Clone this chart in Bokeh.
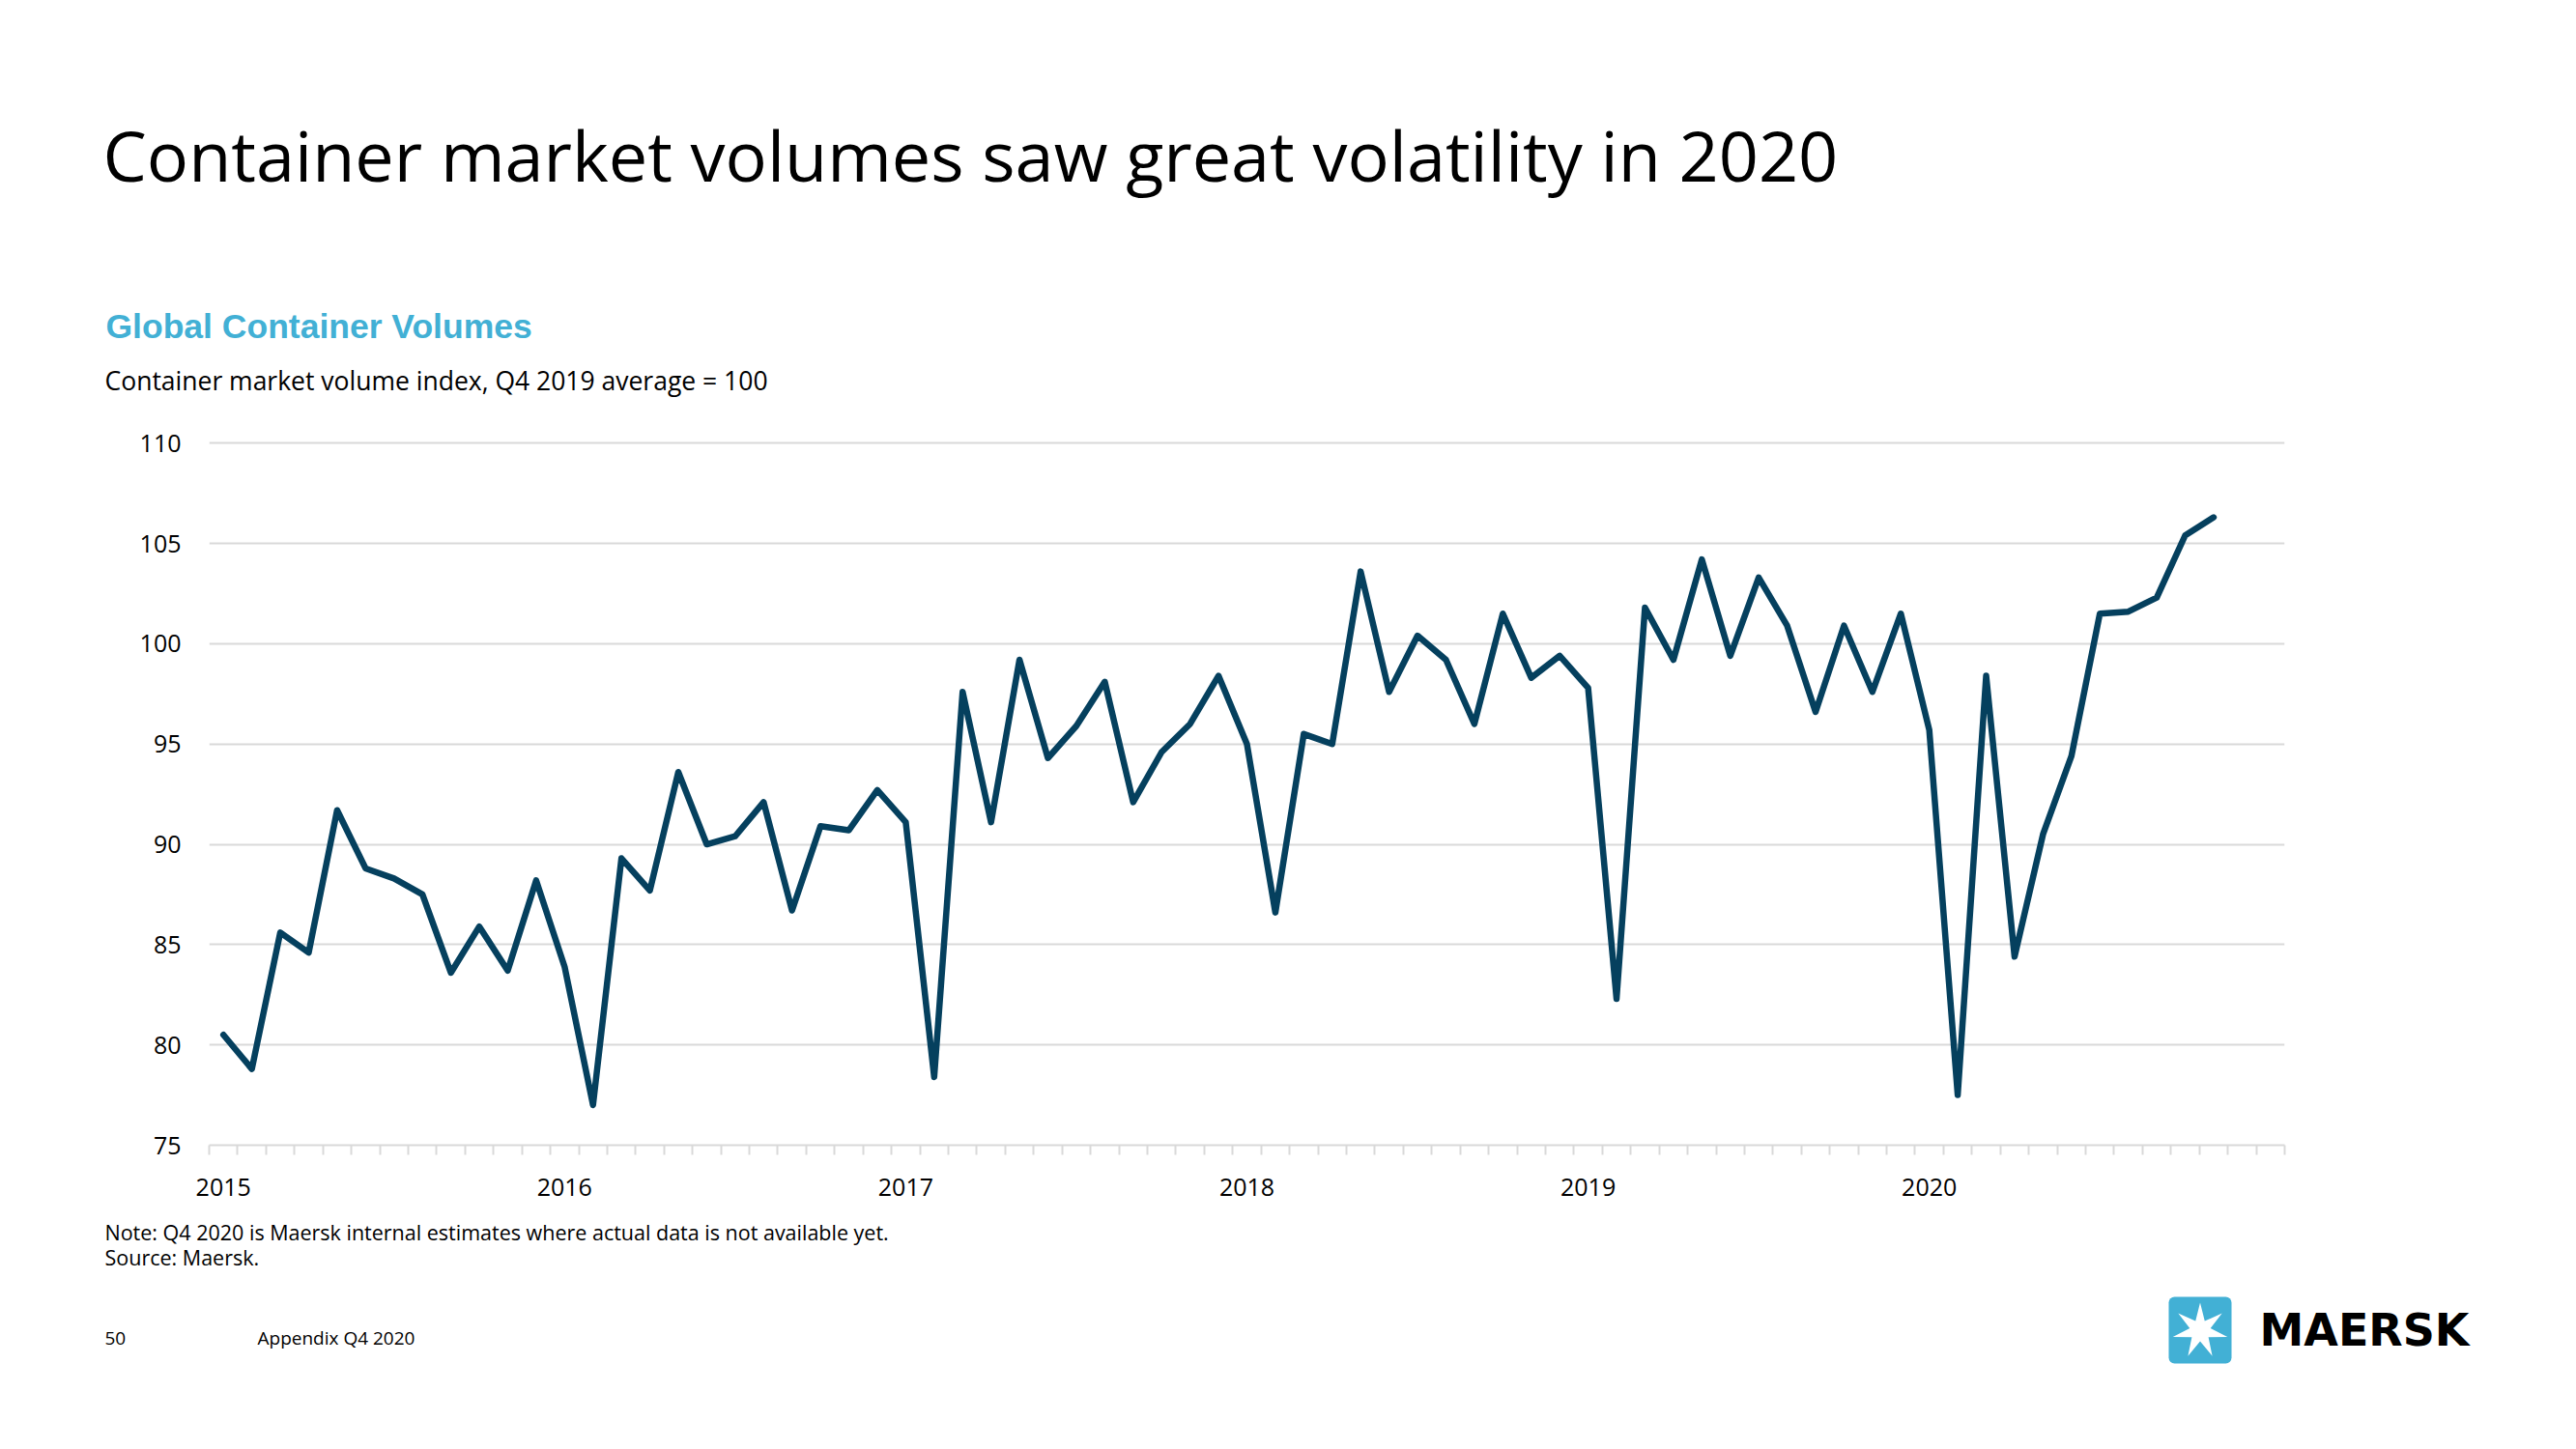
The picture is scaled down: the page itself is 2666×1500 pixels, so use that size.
import math
from bokeh.plotting import figure
from bokeh.layouts import column, row
from bokeh.models import (Range1d, FixedTicker, Label, BoxAnnotation, PolyAnnotation,
                          ColumnDataSource)
from bokeh.embed import file_html
from bokeh.resources import INLINE

# ---------------- data ----------------
year_labels = ["2015", "2016", "2017", "2018", "2019", "2020"]
vol_2015 = [80.5, 78.8, 85.6, 84.6, 91.7, 88.8, 88.3, 87.5, 83.6, 85.9, 83.7, 88.2]
vol_2016 = [83.9, 77.0, 89.3, 87.7, 93.6, 90.0, 90.4, 92.1, 86.7, 90.9, 90.7, 92.7]
vol_2017 = [91.1, 78.4, 97.6, 91.1, 99.2, 94.3, 95.9, 98.1, 92.1, 94.6, 96.0, 98.4]
vol_2018 = [95.0, 86.6, 95.5, 95.0, 103.6, 97.6, 100.4, 99.2, 96.0, 101.5, 98.3, 99.4]
vol_2019 = [97.8, 82.3, 101.8, 99.2, 104.2, 99.4, 103.3, 100.9, 96.6, 100.9, 97.6, 101.5]
vol_2020 = [95.7, 77.5, 98.4, 84.4, 90.5, 94.4, 101.5, 101.6, 102.3, 105.4, 106.3]
y_ticks = [75, 80, 85, 90, 95, 100, 105, 110]

values = vol_2015 + vol_2016 + vol_2017 + vol_2018 + vol_2019 + vol_2020
months_per_year = 12
n_slots = len(year_labels) * months_per_year + 1   # axis runs to Jan 2021

TITLE = "Container market volumes saw great volatility in 2020"
SUBTITLE = "Global Container Volumes"
DESC = "Container market volume index, Q4 2019 average = 100"
NOTE = "Note: Q4 2020 is Maersk internal estimates where actual data is not available yet."
SOURCE = "Source: Maersk."
PAGE = "50"
FOOTER = "Appendix Q4 2020"
BRAND = "MAERSK"

LINE_COLOR = "#05405E"
GRID_COLOR = "#D9D9D9"
BLUE = "#42B0D5"
TXT = "#000000"

W = 2660
HEAD_H, CHART_H, FOOT_H = 430, 820, 240


def blank(height, y_top):
    """A figure whose frame is the whole canvas; data units = page pixels."""
    f = figure(width=W, height=height, output_backend="svg", toolbar_location=None,
               x_range=Range1d(0, W), y_range=Range1d(y_top + height, y_top),
               x_axis_location=None, y_axis_location=None,
               min_border=0, min_border_left=0, min_border_right=0,
               min_border_top=0, min_border_bottom=0)
    f.outline_line_color = None
    f.grid.visible = False
    f.background_fill_color = "white"
    f.border_fill_color = "white"
    return f


def lab(f, text, x, baseline, font, size, color=TXT, style="normal", align="left"):
    # bokeh draws the alphabetic baseline ~0.37em below the anchor; compensate
    f.add_layout(Label(x=x, y=baseline - 0.37 * size, text=text, text_font=font,
                       text_font_size=f"{size}px", text_color=color,
                       text_font_style=style, text_align=align,
                       text_baseline="alphabetic"))


# ---------------- header ----------------
head = blank(HEAD_H, 0)
lab(head, TITLE, 106, 186, "Open Sans", 72)
lab(head, SUBTITLE, 109, 351, "Liberation Sans", 35.5, color=BLUE, style="bold")
lab(head, DESC, 108, 403, "Open Sans", 26.5)

# ---------------- chart ----------------
p = figure(width=W, height=CHART_H, output_backend="svg", toolbar_location=None,
           x_range=Range1d(-0.5, n_slots - 0.5), y_range=Range1d(y_ticks[0], y_ticks[-1] + 0.3),
           min_border_left=216, min_border_right=W - 2364,
           min_border_top=22, min_border_bottom=65)
p.outline_line_color = None
p.background_fill_color = "white"
p.border_fill_color = "white"

src = ColumnDataSource(dict(x=list(range(len(values))), y=values))
p.line("x", "y", source=src, line_width=6.5, line_color=LINE_COLOR,
       line_join="round", line_cap="round")

yax = p.yaxis[0]
yax.ticker = FixedTicker(ticks=y_ticks, minor_ticks=[])
yax.axis_line_color = None
yax.major_tick_line_color = None
yax.major_tick_out = 0
yax.major_tick_in = 0
yax.minor_tick_line_color = None
yax.major_label_standoff = 29
yax.major_label_text_font = "Open Sans"
yax.major_label_text_font_size = "25px"
yax.major_label_text_color = TXT

p.ygrid.ticker = FixedTicker(ticks=y_ticks)
p.ygrid.grid_line_color = GRID_COLOR
p.ygrid.grid_line_width = 2
p.xgrid.grid_line_color = None

year_pos = [i * months_per_year for i in range(len(year_labels))]
xax = p.xaxis[0]
xax.ticker = FixedTicker(ticks=year_pos,
                         minor_ticks=[i - 0.5 for i in range(n_slots + 1)])
xax.major_label_overrides = {pos: lab_ for pos, lab_ in zip(year_pos, year_labels)}
xax.axis_line_color = GRID_COLOR
xax.axis_line_width = 2
xax.major_tick_line_color = None
xax.major_tick_out = 0
xax.major_tick_in = 0
xax.minor_tick_line_color = GRID_COLOR
xax.minor_tick_line_width = 2
xax.minor_tick_out = 10
xax.minor_tick_in = 0
xax.major_label_standoff = 24
xax.major_label_text_font = "Open Sans"
xax.major_label_text_font_size = "25px"
xax.major_label_text_color = TXT

# ---------------- footer ----------------
y0 = HEAD_H + CHART_H
foot = blank(FOOT_H, y0)
lab(foot, NOTE, 108, 1283, "Open Sans", 21.5)
lab(foot, SOURCE, 108, 1309, "Open Sans", 21.5)
lab(foot, PAGE, 108, 1392, "Open Sans", 19)
lab(foot, FOOTER, 266, 1392, "Open Sans", 19)
lab(foot, BRAND, 2338, 1394, "DejaVu Sans", 46, style="bold")

# logo: blue rounded square with a white seven-pointed star
foot.add_layout(BoxAnnotation(left=2244, right=2309, top=1342, bottom=1411,
                              fill_color=BLUE, fill_alpha=1.0, line_color=None,
                              border_radius=6))
cx, cy, r_out, r_in = 2276.5, 1377.0, 29, 11
star_x, star_y = [], []
for i in range(14):
    ang = -math.pi / 2 + i * math.pi / 7
    r = r_out if i % 2 == 0 else r_in
    star_x.append(cx + r * math.cos(ang))
    star_y.append(cy + r * math.sin(ang))
foot.add_layout(PolyAnnotation(xs=star_x, ys=star_y, fill_color="white", fill_alpha=1.0,
                               line_color=None))

layout = column(head, row(p), foot, spacing=0)
open("out.html", "w").write(file_html(layout, INLINE))
